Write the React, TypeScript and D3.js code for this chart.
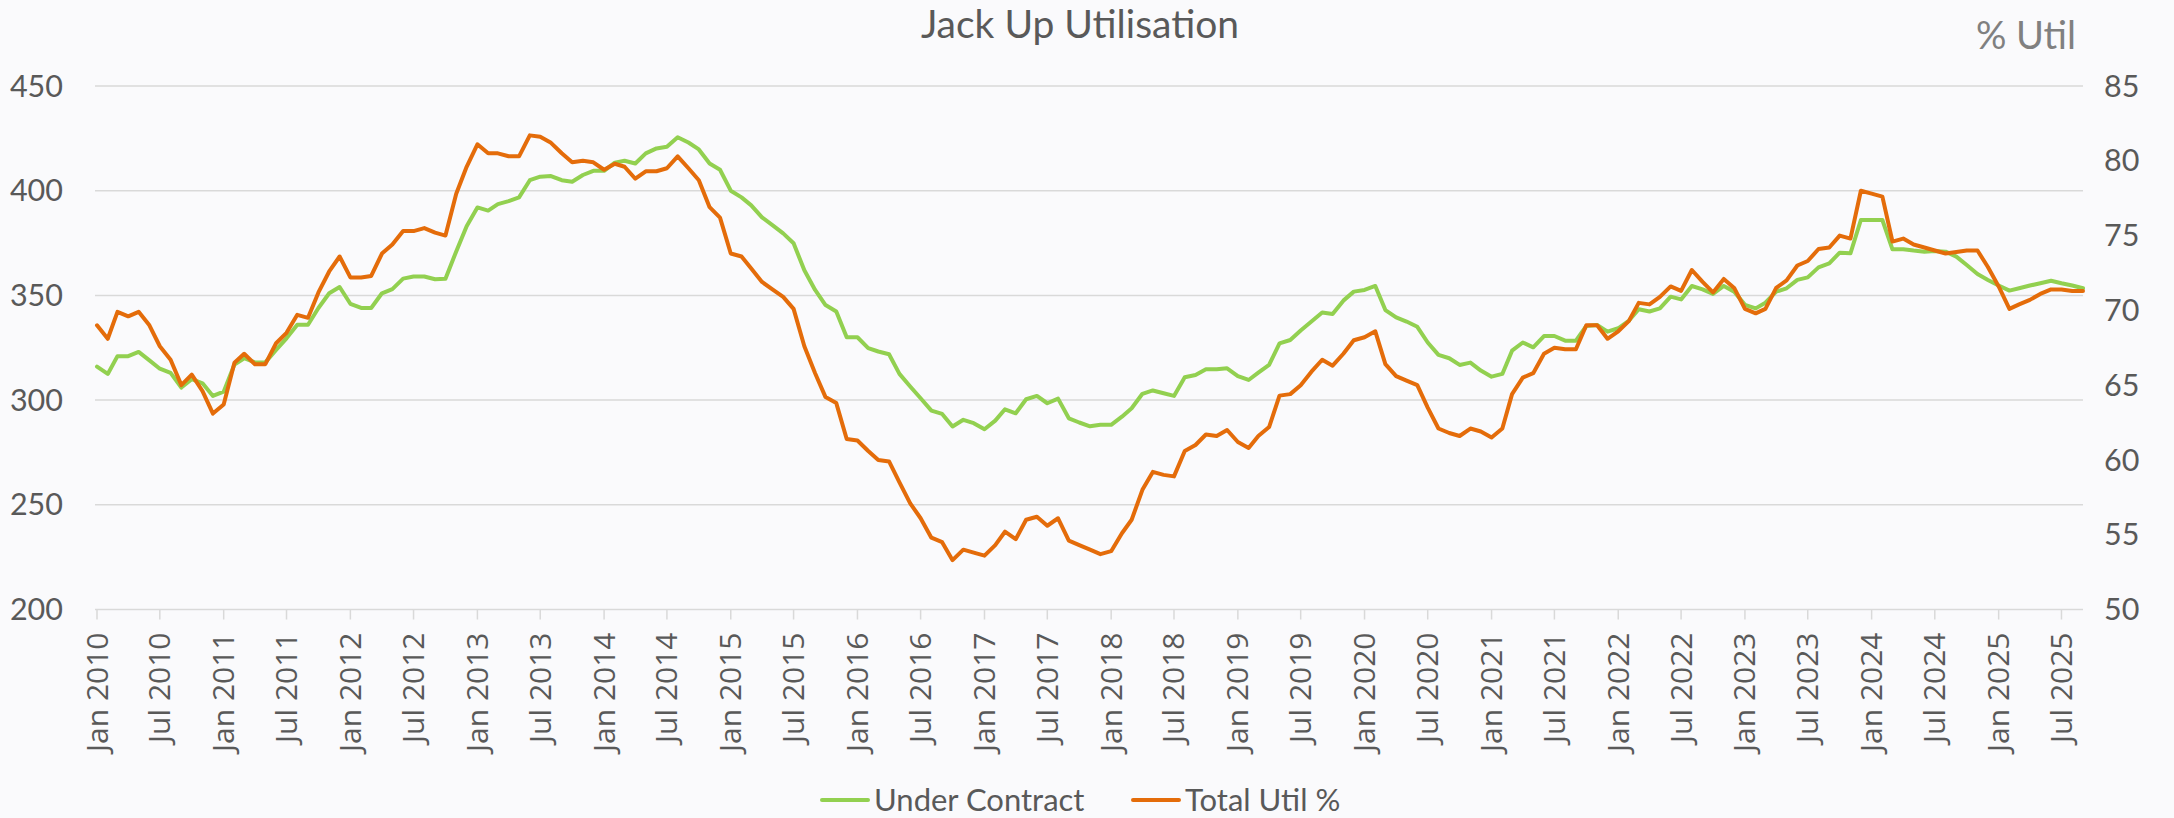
import * as d3 from 'd3';
import { useEffect, useRef } from 'react';

// monthly values, Jan 2010 .. Sep 2025
const underContract = [
  316, 312.5, 321, 321, 323, 319, 315, 313, 306, 310, 308, 302,
  304, 317, 320, 318, 318, 324, 329.5, 336, 336, 344, 351, 354,
  346, 344, 344, 351, 353, 358, 359, 359, 357.7, 358, 371, 383,
  392, 390.5, 393.6, 395, 396.8, 405, 406.7, 407, 405, 404.3, 407.5, 409.5,
  409.5, 413.4, 414.3, 413, 417.8, 420.2, 421, 425.5, 423, 419.7, 413, 410,
  400, 396.8, 393, 387.3, 383.6, 379.6, 374.9, 362, 352.6, 345.4, 342.3, 330,
  330, 324.8, 323.2, 321.9, 312.5, 306.5, 300.9, 295, 293.4, 287.4, 290.6, 289,
  286.1, 290.2, 295.6, 293.7, 300.4, 302, 298.5, 300.7, 291.3, 289.3, 287.5, 288.2,
  288.2, 292.1, 296.1, 303, 304.6, 303.3, 302, 310.9, 312, 314.7, 314.7, 315.2,
  311.5, 309.6, 313.1, 316.8, 327.1, 328.7, 333.2, 337.5, 341.8, 341.1, 347.5, 351.8,
  352.6, 354.5, 343, 339.5, 337.5, 335, 327.5, 321.6, 320, 316.8, 317.9, 314.1,
  311.2, 312.5, 323.6, 327.5, 325.2, 330.6, 330.6, 328.4, 328.4, 335.4, 335.9, 332.7,
  334.3, 338, 343.4, 342.3, 343.8, 349.4, 348.1, 354.5, 352.9, 350.7, 354.5, 351.8,
  345.5, 343.8, 346.5, 351.8, 353.4, 357.4, 358.6, 363.4, 365.3, 370.4, 370.1, 386,
  386, 386, 372, 372, 371.4, 370.9, 371.2, 370.9, 368.5, 364.5, 360.2, 357.4,
  354.7, 352.3, 353.4, 354.7, 355.8, 357, 355.8, 354.7, 353.4,
];

const totalUtil = [
  69.0, 68.1, 69.9, 69.6, 69.9, 69.0, 67.6, 66.7, 65.0, 65.7, 64.6, 63.1,
  63.7, 66.5, 67.1, 66.4, 66.4, 67.8, 68.5, 69.7, 69.5, 71.2, 72.6, 73.6,
  72.2, 72.2, 72.3, 73.8, 74.4, 75.3, 75.3, 75.5, 75.2, 75.0, 77.8, 79.6,
  81.1, 80.5, 80.5, 80.3, 80.3, 81.7, 81.6, 81.2, 80.5, 79.9, 80.0, 79.9,
  79.4, 79.8, 79.6, 78.8, 79.3, 79.3, 79.5, 80.3, 79.5, 78.7, 76.9, 76.2,
  73.8, 73.6, 72.8, 71.9, 71.4, 70.9, 70.1, 67.6, 65.8, 64.2, 63.8, 61.4,
  61.3, 60.6, 60.0, 59.9, 58.5, 57.1, 56.1, 54.8, 54.5, 53.3, 54.0, 53.8,
  53.6, 54.3, 55.2, 54.7, 56.0, 56.2, 55.6, 56.1, 54.6, 54.3, 54.0, 53.7,
  53.9, 55.1, 56.0, 58.0, 59.2, 59.0, 58.9, 60.6, 61.0, 61.7, 61.6, 62.0,
  61.2, 60.8, 61.6, 62.2, 64.3, 64.4, 65.0, 65.9, 66.7, 66.3, 67.1, 68.0,
  68.2, 68.6, 66.4, 65.6, 65.3, 65.0, 63.5, 62.1, 61.8, 61.6, 62.1, 61.9,
  61.5, 62.1, 64.4, 65.5, 65.8, 67.1, 67.5, 67.4, 67.4, 69.0, 69.0, 68.1,
  68.6, 69.3, 70.5, 70.4, 70.9, 71.6, 71.3, 72.7, 71.9, 71.2, 72.1, 71.5,
  70.1, 69.8, 70.1, 71.5, 72.0, 73.0, 73.3, 74.1, 74.2, 75.0, 74.8, 78.0,
  77.8, 77.6, 74.6, 74.8, 74.4, 74.2, 74.0, 73.8, 73.9, 74.0, 74.0, 72.9,
  71.6, 70.1, 70.4, 70.7, 71.1, 71.4, 71.4, 71.3, 71.3,
];

const leftTicks = [200, 250, 300, 350, 400, 450];
const rightTicks = [50, 55, 60, 65, 70, 75, 80, 85];
const seriesNames = ['Under Contract', 'Total Util %'];
const seriesColors = ['#92d050', '#e46c0a'];
const startMonth = new Date(2010, 0, 1);

const W = 2174, H = 818;

export default function App() {
  const ref = useRef<SVGSVGElement>(null);

  useEffect(() => {
    const months = underContract.map((_, i) => d3.timeMonth.offset(startMonth, i));
    const margin = { top: 86, right: 91, bottom: 208.5, left: 97 };
    const x0 = margin.left, x1 = W - margin.right;
    const yTop = margin.top, yBot = H - margin.bottom;

    const x = d3.scaleTime().domain([months[0], months[months.length - 1]]).range([x0, x1]);
    const yL = d3.scaleLinear().domain([200, 450]).range([yBot, yTop]);
    const yR = d3.scaleLinear().domain([50, 85]).range([yBot, yTop]);

    const svg = d3.select(ref.current);
    svg.selectAll('*').remove();

    svg.append('rect').attr('width', W).attr('height', H).attr('fill', '#fafafc');

    // gridlines
    svg.append('g').selectAll('line').data(leftTicks).enter().append('line')
      .attr('x1', x0 - 2).attr('x2', x1)
      .attr('y1', d => yL(d)).attr('y2', d => yL(d))
      .attr('stroke', '#d9d9d9').attr('stroke-width', 1.5);

    // left labels
    svg.append('g').selectAll('text').data(leftTicks).enter().append('text')
      .attr('x', 63).attr('y', d => yL(d)).attr('dy', '0.35em')
      .attr('text-anchor', 'end')
      .attr('font-family', 'Lato, sans-serif').attr('font-size', 30.5)
      .attr('fill', '#595959')
      .text(d => d);

    // right labels
    svg.append('g').selectAll('text').data(rightTicks).enter().append('text')
      .attr('x', 2104).attr('y', d => yR(d)).attr('dy', '0.35em')
      .attr('font-family', 'Lato, sans-serif').attr('font-size', 30.5)
      .attr('fill', '#595959')
      .text(d => d);

    // x axis ticks + rotated labels
    const ticks = d3.timeMonth.every(6)!.range(months[0], d3.timeDay.offset(months[months.length - 1], 1));
    const fmt = d3.timeFormat('%b %Y');
    const tg = svg.append('g');
    tg.selectAll('line').data(ticks).enter().append('line')
      .attr('x1', d => x(d)).attr('x2', d => x(d))
      .attr('y1', yBot).attr('y2', yBot + 10)
      .attr('stroke', '#d9d9d9').attr('stroke-width', 1.5);
    tg.selectAll('text').data(ticks).enter().append('text')
      .attr('transform', d => `translate(${x(d)},${yBot + 23}) rotate(-90)`)
      .attr('text-anchor', 'end').attr('dy', '0.35em')
      .attr('font-family', '"Open Sans", sans-serif').attr('font-size', 30)
      .attr('fill', '#595959')
      .text(d => fmt(d));

    // lines
    const lineL = d3.line<number>().x((_, i) => x(months[i])).y(d => yL(d));
    const lineR = d3.line<number>().x((_, i) => x(months[i])).y(d => yR(d));
    svg.append('path').datum(underContract).attr('d', lineL)
      .attr('fill', 'none').attr('stroke', seriesColors[0]).attr('stroke-width', 4)
      .attr('stroke-linejoin', 'round').attr('stroke-linecap', 'round');
    svg.append('path').datum(totalUtil).attr('d', lineR)
      .attr('fill', 'none').attr('stroke', seriesColors[1]).attr('stroke-width', 4)
      .attr('stroke-linejoin', 'round').attr('stroke-linecap', 'round');

    // title + right axis title
    svg.append('text').attr('x', 1080).attr('y', 38).attr('text-anchor', 'middle')
      .attr('font-family', 'Lato, sans-serif').attr('font-size', 39).attr('fill', '#595959')
      .text('Jack Up Utilisation');
    svg.append('text').attr('x', 2076).attr('y', 49).attr('text-anchor', 'end')
      .attr('font-family', 'Lato, sans-serif').attr('font-size', 38).attr('fill', '#808080')
      .text('% Util');

    // legend
    const legendX = [822, 1133];
    const lg = svg.append('g').selectAll('g').data(seriesNames).enter().append('g')
      .attr('transform', (_, i) => `translate(${legendX[i]},800)`);
    lg.append('line').attr('x1', 0).attr('x2', 46)
      .attr('stroke', (_, i) => seriesColors[i]).attr('stroke-width', 4).attr('stroke-linecap', 'round');
    lg.append('text').attr('x', 52).attr('dy', '0.35em')
      .attr('font-family', 'Lato, sans-serif').attr('font-size', 31).attr('fill', '#595959')
      .text(d => d);
  }, []);

  return (
    <svg ref={ref} width={W} height={H} style={{ position: 'absolute', left: 0, top: 0, display: 'block' }} />
  );
}
